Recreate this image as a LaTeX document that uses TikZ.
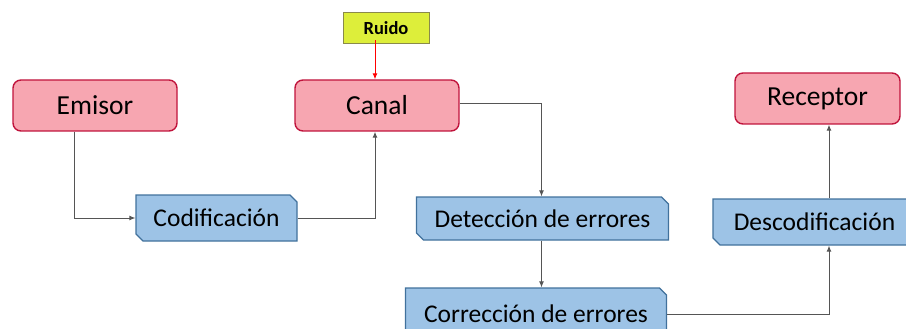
\documentclass[tikz,border=0pt]{standalone}
\usepackage{fontspec}
\setmainfont{Carlito}
\usetikzlibrary{arrows.meta,shapes.misc}
\definecolor{pinkfill}{HTML}{F7A6B1}
\definecolor{pinkline}{HTML}{C0143C}
\definecolor{bluefill}{HTML}{9DC3E6}
\definecolor{blueline}{HTML}{41719C}
\definecolor{noisefill}{HTML}{DDEE3A}
\definecolor{noiseline}{HTML}{8A8A4A}
\definecolor{linkgray}{HTML}{555555}

\tikzset{
  endpoint/.style={draw=pinkline,fill=pinkfill,line width=1.4pt,rounded corners=8pt,
    minimum width=164pt,minimum height=51pt,inner sep=0pt,
    font=\fontsize{27.5}{32}\selectfont},
  stagebox/.style={chamfered rectangle,chamfered rectangle corners={north east,south west},
    chamfered rectangle xsep=3.5pt,chamfered rectangle ysep=3.5pt,
    draw=blueline,fill=bluefill,line width=1.2pt,minimum height=46pt,inner sep=0pt,
    font=\fontsize{25.5}{30}\selectfont},
  noisebox/.style={draw=noiseline,fill=noisefill,line width=1pt,
    minimum width=86pt,minimum height=31pt,inner sep=0pt,
    font=\fontsize{18.5}{21}\selectfont\bfseries},
  link/.style={draw=linkgray,line width=1pt,-{Latex[length=6pt,width=5pt]}},
}

\begin{document}
\begin{tikzpicture}[x=1pt,y=-1pt]
  \path[use as bounding box] (0,0) rectangle (906,329);
  % ends of the chain
  \node[endpoint] (emisor) at ( 95.0,105.5) {Emisor};
  \node[endpoint] (canal) at (377.0,105.5) {Canal};
  \node[endpoint,minimum width=165pt] (receptor) at (817.5, 98.5) {Receptor};
  \node[noisebox] (ruido) at (386.0, 28.5) {Ruido};
  % processing stages
  \node[stagebox,minimum width=161pt] (codif) at (216.5,218.0) {Codificación};
  \node[stagebox,minimum width=252pt,minimum height=43pt] (detec) at (542.5,218.5) {Detección de errores};
  \node[stagebox,minimum width=261pt,minimum height=52pt] (correc) at (536.0,314.0) {Corrección de errores};
  \node[stagebox,minimum width=203pt] (descod) at (814.5,222.0) {Descodificación};
  % connectors
  \draw[link] ([xshift=-21pt]emisor.south) |- (codif.west);
  \draw[link] (codif.east) -| ([xshift=-2pt]canal.south);
  \draw[link,draw=red] ([yshift=4pt,xshift=-11pt]ruido.south) -- ([xshift=-2pt]canal.north);
  \draw[link] ([yshift=1.5pt]canal.east) -| ([xshift=-1pt]detec.north);
  \draw[link] ([xshift=-1pt]detec.south) -- ([xshift=-1pt]detec.south |- correc.north);
  \draw[link] (correc.east) -| ([xshift=14.5pt]descod.south);
  \draw[link] ([xshift=14.5pt]descod.north) -- ([xshift=14.5pt]descod.north |- receptor.south);
\end{tikzpicture}
\end{document}
